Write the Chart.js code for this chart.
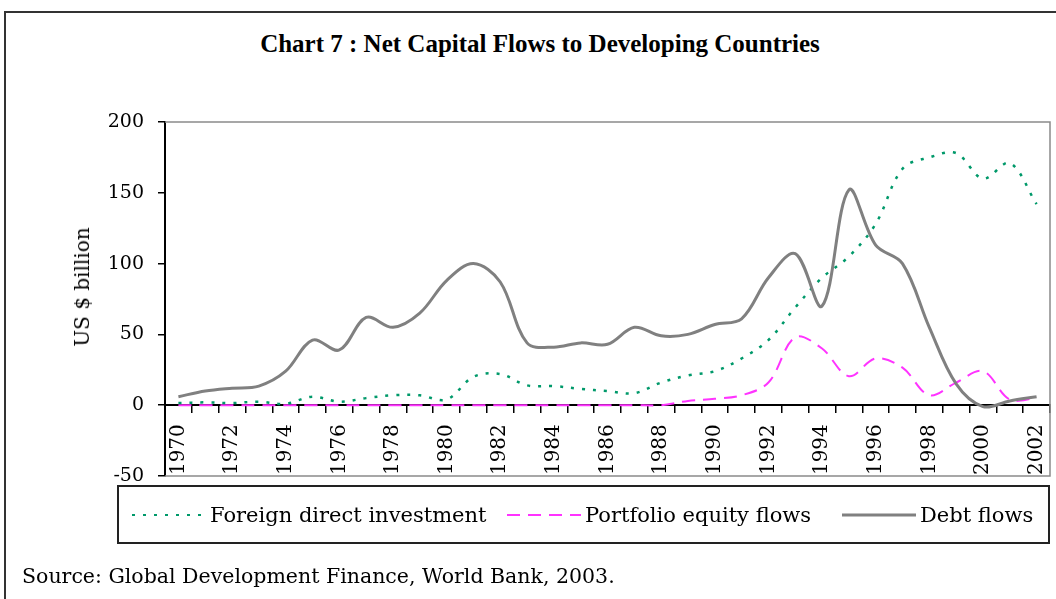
<!DOCTYPE html>
<html>
<head>
<meta charset="utf-8">
<script src="https://cdn.jsdelivr.net/npm/chart.js@4.4.0/dist/chart.umd.min.js"></script>
<style>
  body { margin: 0; background: #fff; }
  #wrap { position: relative; width: 1056px; height: 599px; overflow: hidden; font-family: "DejaVu Serif", serif; color: #000; }
  #frame { position: absolute; left: 4px; top: 11px; width: 1070px; height: 620px; border: 2px solid #333; box-sizing: border-box; }
  #title { position: absolute; left: 0; top: 30px; width: 1080px; text-align: center; font: bold 25px "Liberation Serif", serif; }
  #chart { position: absolute; left: 0; top: 0; }
  #ytitle { position: absolute; left: 82px; top: 287px; transform: translate(-50%, -50%) rotate(-90deg); font-size: 20px; white-space: nowrap; }
  #legend { position: absolute; left: 117px; top: 485px; width: 933px; height: 59px; border: 2px solid #222; box-sizing: border-box; }
  .item { position: absolute; top: 0; height: 55px; display: flex; align-items: center; font-size: 21px; white-space: nowrap; }
  .item svg { margin-right: 4px; }
  #source { position: absolute; left: 22px; top: 564px; font-size: 20.5px; white-space: nowrap; }
</style>
</head>
<body>
<div id="wrap">
  <div id="frame"></div>
  <div id="title">Chart 7 : Net Capital Flows to Developing Countries</div>
  <canvas id="chart" width="1056" height="599"></canvas>
  <div id="ytitle">US $ billion</div>
  <div id="legend">
    <div class="item" style="left:13px"><svg width="74" height="4"><line x1="0" y1="2" x2="74" y2="2" stroke="#00996a" stroke-width="2" stroke-dasharray="3 8"/></svg>Foreign direct investment</div>
    <div class="item" style="left:388px"><svg width="74" height="4"><line x1="0" y1="2" x2="74" y2="2" stroke="#ff33ff" stroke-width="2" stroke-dasharray="13 8"/></svg>Portfolio equity flows</div>
    <div class="item" style="left:723px"><svg width="74" height="4"><line x1="0" y1="2" x2="74" y2="2" stroke="#808080" stroke-width="3"/></svg>Debt flows</div>
  </div>
  <div id="source">Source: Global Development Finance, World Bank, 2003.</div>
</div>
<script>
const years = ['1970','1971','1972','1973','1974','1975','1976','1977','1978','1979','1980','1981','1982','1983','1984','1985','1986','1987','1988','1989','1990','1991','1992','1993','1994','1995','1996','1997','1998','1999','2000','2001','2002'];

const fdi = [1.5, 2, 1.5, 2.5, 1, 6, 2.5, 5, 7, 7, 4, 20, 22, 14, 13.5, 11.5, 10, 8.5, 16, 21, 24, 33, 46, 69, 90, 105, 128, 167, 175, 178, 160, 171, 142];
const portfolio = [0, 0, 0, 0, 0, 0, 0, 0, 0, 0, 0, 0, 0, 0, 0, 0, 0, 0, 0, 3, 4.5, 7, 16, 48, 40, 20.5, 33, 26.5, 7, 16, 24, 4, 5];
const debt = [6, 10, 12, 13.5, 24, 46, 39, 62, 55, 65, 88, 100, 87, 44, 41, 44, 43, 55, 49, 50, 57, 61, 90, 107, 70, 152, 113, 100, 55, 15, -1, 3, 6];

const yTicks = [-50, 0, 50, 100, 150, 200];

const serif = '"DejaVu Serif", serif';

// gray frame around the plot (top, right, bottom); left stays the black axis
const plotFrame = {
  id: 'plotFrame',
  beforeDatasetsDraw(chart) {
    const { ctx, chartArea: a } = chart;
    ctx.save();
    ctx.strokeStyle = '#8a8a8a';
    ctx.lineWidth = 1.5;
    ctx.beginPath();
    ctx.moveTo(a.left, a.top);
    ctx.lineTo(a.right, a.top);
    ctx.lineTo(a.right, a.bottom);
    ctx.lineTo(a.left, a.bottom);
    ctx.stroke();
    ctx.restore();
  }
};

new Chart(document.getElementById('chart'), {
  type: 'line',
  data: {
    labels: years,
    datasets: [
      { label: 'Debt flows', data: debt, borderColor: '#808080', borderWidth: 3, tension: 0.35, pointRadius: 0, order: 1 },
      { label: 'Foreign direct investment', data: fdi, borderColor: '#00996a', borderWidth: 2.5, borderDash: [3, 8], tension: 0.35, pointRadius: 0, order: 2 },
      { label: 'Portfolio equity flows', data: portfolio, borderColor: '#ff33ff', borderWidth: 2, borderDash: [13, 8], tension: 0.35, pointRadius: 0, order: 3 }
    ]
  },
  options: {
    responsive: false,
    animation: false,
    layout: { padding: { left: 71, right: 6, top: 122, bottom: 123 } },
    plugins: { legend: { display: false }, tooltip: { enabled: false } },
    scales: {
      x: {
        type: 'category',
        position: { y: 0 },
        offset: true,
        afterFit: (scale) => { scale.paddingLeft = 0; scale.paddingRight = 0; },
        grid: { offset: true, drawOnChartArea: false, drawTicks: true, tickLength: 7, color: '#000', lineWidth: 1.5 },
        border: { color: '#000', width: 2 },
        ticks: {
          autoSkip: false,
          minRotation: 90,
          maxRotation: 90,
          padding: 12,
          color: '#000',
          font: { family: serif, size: 20 },
          callback: (v, i) => (i % 2 === 0 ? years[i] : '')
        }
      },
      y: {
        min: -50,
        max: 200,
        afterBuildTicks: (scale) => { scale.ticks = yTicks.map(v => ({ value: v })); },
        afterFit: (scale) => { scale.width = 94; },
        grid: { drawOnChartArea: false, tickLength: 7, color: '#000', lineWidth: 1.5 },
        border: { color: '#000', width: 2 },
        ticks: { padding: 14, color: '#000', font: { family: serif, size: 19 } },
        title: { display: false }
      }
    }
  },
  plugins: [plotFrame]
});
</script>
</body>
</html>
